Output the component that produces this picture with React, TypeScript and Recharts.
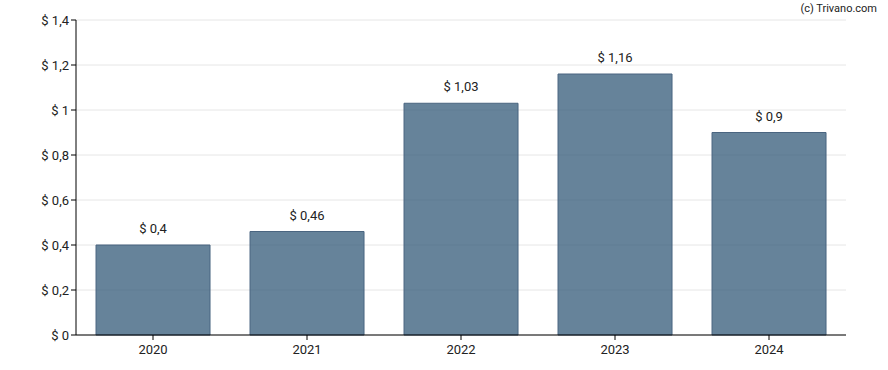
import { BarChart, Bar, XAxis, YAxis, CartesianGrid, LabelList } from 'recharts';

// EPS per jaar
const years = ['2020', '2021', '2022', '2023', '2024'];
const values = [0.4, 0.46, 1.03, 1.16, 0.9];
const yTicks = [0, 0.2, 0.4, 0.6, 0.8, 1, 1.2, 1.4];

const fmt = (v: any) => `$ ${String(Number(v)).replace('.', ',')}`;

export default function App() {
  const data = years.map((y, i) => ({ jaar: y, waarde: values[i] }));
  const font = 'Roboto, "Noto Sans", sans-serif';

  return (
    <div style={{ position: 'absolute', left: 0, top: 0, width: 888, height: 370, fontFamily: font }}>
      <div style={{ position: 'absolute', right: 11, top: 2, fontSize: 11, color: '#222' }}>
        (c) Trivano.com
      </div>
      <BarChart
        width={888}
        height={370}
        data={data}
        margin={{ top: 20, right: 42, left: 0, bottom: 5 }}
        barCategoryGap="13%"
      >
        <CartesianGrid vertical={false} stroke="#e6e6e6" />
        <XAxis
          dataKey="jaar"
          height={30}
          tick={{ fill: '#222', fontSize: 13, fontFamily: font }}
          axisLine={{ stroke: '#000' }}
          tickLine={{ stroke: '#000' }}
          tickSize={5}
          tickMargin={5}
        />
        <YAxis
          width={76}
          domain={[0, 1.4]}
          ticks={yTicks}
          interval={0}
          tickFormatter={fmt}
          tick={{ fill: '#222', fontSize: 13, fontFamily: font }}
          axisLine={{ stroke: '#000' }}
          tickLine={{ stroke: '#000' }}
          tickSize={5}
        />
        <Bar
          dataKey="waarde"
          fill="#335a78"
          fillOpacity={0.75}
          stroke="#4a6580"
          strokeWidth={1}
          isAnimationActive={false}
        >
          <LabelList
            dataKey="waarde"
            position="top"
            offset={12}
            formatter={fmt}
            style={{ fill: '#222', fontSize: 13, fontFamily: font }}
          />
        </Bar>
      </BarChart>
    </div>
  );
}
